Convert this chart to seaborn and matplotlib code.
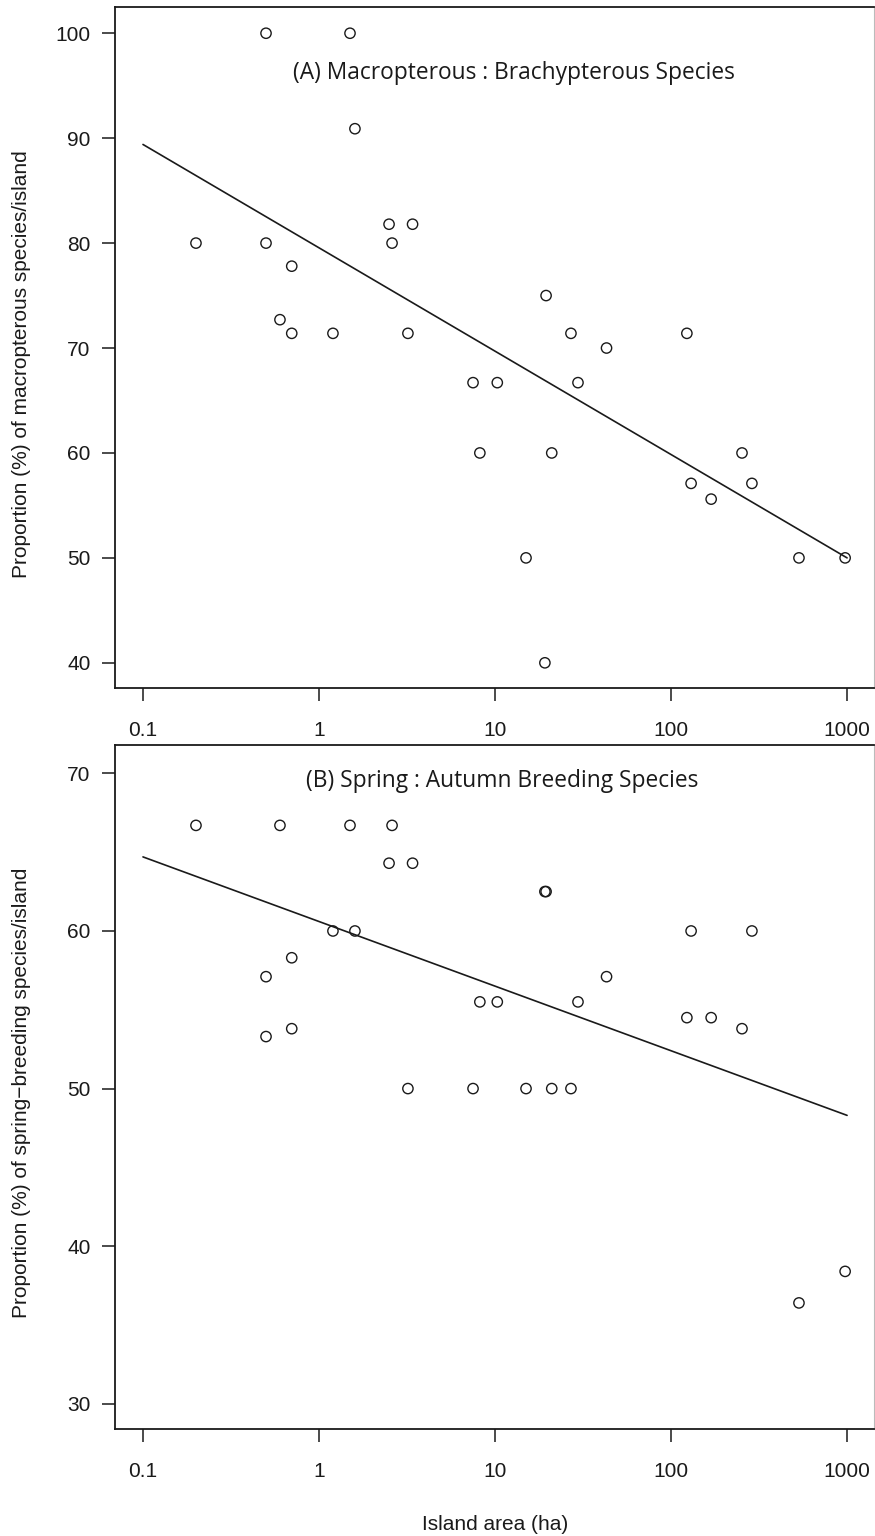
import numpy as np
import pandas as pd
import matplotlib
matplotlib.use("Agg")
import matplotlib.pyplot as plt
import seaborn as sns

# ---- data ----
area_ha = [0.2, 0.5, 0.5, 0.6, 0.7, 0.7, 1.2, 1.5, 1.6, 2.5, 2.6, 3.2, 3.4, 7.5, 8.2,
           10.3, 15, 19.2, 19.5, 21, 27, 29.6, 43, 123, 130, 169, 253, 288, 533, 975]
macropterous_pct = [80, 100, 80, 72.7, 77.8, 71.4, 71.4, 100, 90.9, 81.8, 80, 71.4, 81.8, 66.7, 60,
                    66.7, 50, 40, 75, 60, 71.4, 66.7, 70, 71.4, 57.1, 55.6, 60, 57.1, 50, 50]
spring_pct = [66.7, 57.1, 53.3, 66.7, 58.3, 53.8, 60, 66.7, 60, 64.3, 66.7, 50, 64.3, 50, 55.5,
              55.5, 50, 62.5, 62.5, 50, 50, 55.5, 57.1, 54.5, 60, 54.5, 53.8, 60, 36.4, 38.4]
fit_x = [0.1, 1000]
fit_macropterous = [89.4, 50.0]
fit_spring = [64.7, 48.3]

xticks = [0.1, 1, 10, 100, 1000]
xticklabels = ["0.1", "1", "10", "100", "1000"]
yticks_a = [40, 50, 60, 70, 80, 90, 100]
yticks_b = [30, 40, 50, 60, 70]
title_a = "(A) Macropterous : Brachypterous Species"
title_b = "(B) Spring : Autumn Breeding Species"
ylabel_a = "Proportion (%) of macropterous species/island"
ylabel_b = "Proportion (%) of spring\u2212breeding species/island"
xlabel = "Island area (ha)"

df = pd.DataFrame({"area": area_ha, "macro": macropterous_pct, "spring": spring_pct})
fit_df = pd.DataFrame({"area": fit_x, "macro": fit_macropterous, "spring": fit_spring})

sns.set_theme(style="white")
plt.rcParams["font.family"] = ["Liberation Sans", "DejaVu Sans"]

INK = "#1a1a1a"
fig = plt.figure(figsize=(8.75, 15.36), dpi=100)
W, H = 875, 1536
axA = fig.add_axes([115 / W, 1 - 688 / H, 759 / W, 681 / H])
axB = fig.add_axes([115 / W, 1 - 1429 / H, 759 / W, 684 / H])

panels = [
    (axA, "macro", title_a, ylabel_a, yticks_a, (37.6, 102.5), 514, 73, 7, 688, 364),
    (axB, "spring", title_b, ylabel_b, yticks_b, (28.4, 71.8), 502, 781, 745, 1429, 1093),
]

for ax, col, title, ylab, yt, ylim, title_x, title_y, top_px, bot_px, ylab_y in panels:
    sns.scatterplot(data=df, x="area", y=col, ax=ax, marker="o", s=55,
                    facecolors="none", edgecolor=INK, linewidth=1.0, zorder=3)
    sns.lineplot(data=fit_df, x="area", y=col, ax=ax, color=INK, linewidth=1.2)
    ax.set_xscale("log")
    ax.set_xlim(10 ** -1.159, 10 ** 3.153)
    ax.set_ylim(*ylim)
    ax.set_xticks(xticks)
    ax.set_xticklabels(xticklabels)
    ax.minorticks_off()
    ax.set_yticks(yt)
    ax.set_yticklabels([str(v) for v in yt])
    ax.tick_params(axis="both", which="major", direction="out", length=9.5, width=1.1,
                   color=INK, labelsize=15, labelcolor=INK,
                   bottom=True, left=True, top=False, right=False)
    ax.tick_params(axis="y", pad=8)
    ax.tick_params(axis="x", pad=14)
    ax.set_xlabel("")
    ax.set_ylabel("")
    for side in ["left", "bottom", "top"]:
        ax.spines[side].set_color(INK)
        ax.spines[side].set_linewidth(1.3)
    ax.spines["right"].set_color("#bbbbbb")
    ax.spines["right"].set_linewidth(0.8)
    ax.grid(False)
    fig.text(title_x / W, 1 - title_y / H, title, ha="center", va="center",
             fontsize=16.4, family=["Open Sans", "DejaVu Sans"], color=INK)
    fig.text(22 / W, 1 - ylab_y / H, ylab,
             rotation=90, ha="center", va="center", fontsize=15, color=INK)

fig.text(495 / W, 1 - 1525 / H, xlabel, ha="center", va="center", fontsize=15, color=INK)

fig.savefig("out.png", dpi=100, facecolor="white")
